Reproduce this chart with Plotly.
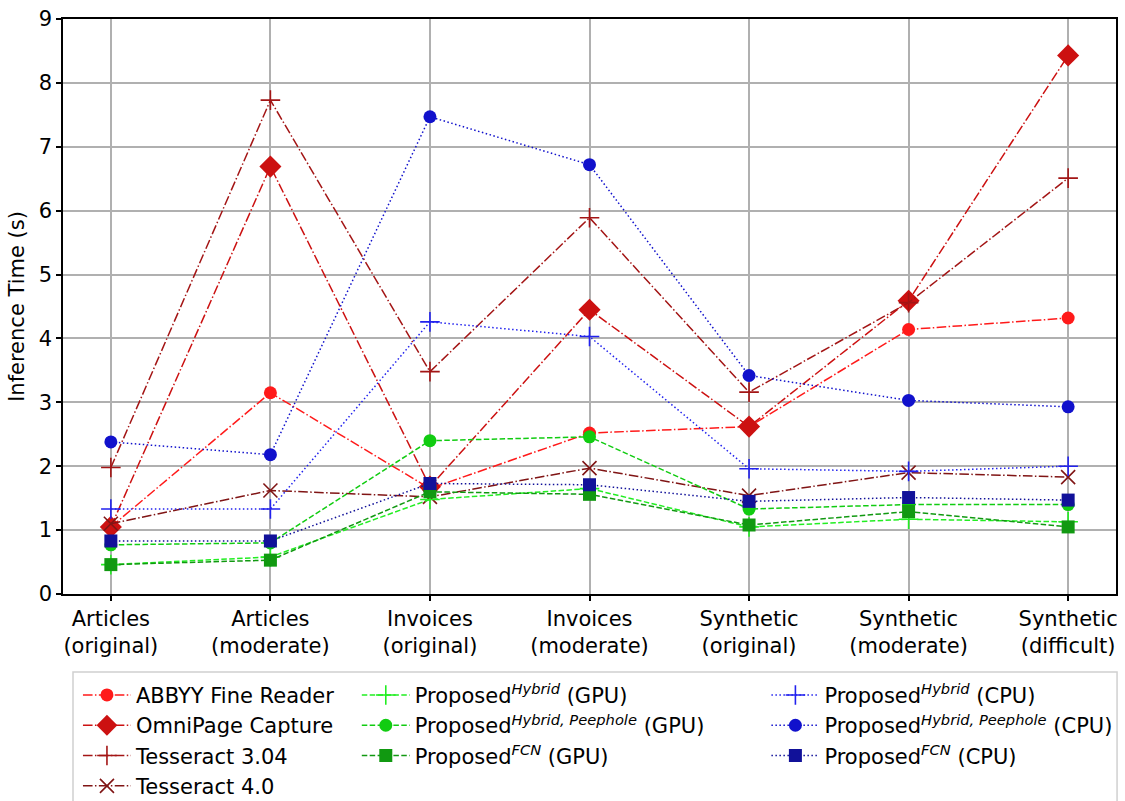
import plotly.graph_objects as go

categories = ["Articles<br>(original)", "Articles<br>(moderate)", "Invoices<br>(original)",
              "Invoices<br>(moderate)", "Synthetic<br>(original)", "Synthetic<br>(moderate)",
              "Synthetic<br>(difficult)"]

abbyy = [1.05, 3.15, 1.65, 2.52, 2.62, 4.14, 4.32]
omnipage = [1.05, 6.69, 1.68, 4.45, 2.62, 4.59, 8.43]
tess304 = [1.98, 7.73, 3.48, 5.89, 3.16, 4.56, 6.51]
tess40 = [1.10, 1.62, 1.52, 1.97, 1.54, 1.90, 1.83]
hyb_gpu = [0.46, 0.58, 1.48, 1.65, 1.05, 1.17, 1.13]
peep_gpu = [0.77, 0.80, 2.40, 2.46, 1.33, 1.40, 1.40]
fcn_gpu = [0.46, 0.53, 1.60, 1.56, 1.08, 1.29, 1.05]
hyb_cpu = [1.33, 1.33, 4.26, 4.03, 1.96, 1.92, 2.00]
peep_cpu = [2.38, 2.18, 7.47, 6.72, 3.42, 3.03, 2.93]
fcn_cpu = [0.83, 0.83, 1.73, 1.71, 1.45, 1.51, 1.47]

x = list(range(len(categories)))

DASHDOT = "9.6px,2.4px,1.5px,2.4px"
DASHED = "5.5px,2.4px"
DOTTED = "1.5px,2.5px"

series = [
    ("ABBYY Fine Reader", abbyy, "#ff1a1a", "circle", 13, DASHDOT, "legend"),
    ("OmniPage Capture", omnipage, "#cc1111", "diamond", 17, DASHDOT, "legend"),
    ("Tesseract 3.04", tess304, "#a31515", "cross-thin", 14, DASHDOT, "legend"),
    ("Tesseract 4.0", tess40, "#801515", "x-thin", 14, DASHDOT, "legend"),
    ("Proposed<sup><i>Hybrid</i></sup> (GPU)", hyb_gpu, "#22ee22", "cross-thin", 14, DASHED, "legend2"),
    ("Proposed<sup><i>Hybrid, Peephole</i></sup> (GPU)", peep_gpu, "#11cc11", "circle", 13, DASHED, "legend2"),
    ("Proposed<sup><i>FCN</i></sup> (GPU)", fcn_gpu, "#119911", "square", 13, DASHED, "legend2"),
    ("Proposed<sup><i>Hybrid</i></sup> (CPU)", hyb_cpu, "#2222ee", "cross-thin", 14, DOTTED, "legend3"),
    ("Proposed<sup><i>Hybrid, Peephole</i></sup> (CPU)", peep_cpu, "#1111cc", "circle", 13, DOTTED, "legend3"),
    ("Proposed<sup><i>FCN</i></sup> (CPU)", fcn_cpu, "#111199", "square", 13, DOTTED, "legend3"),
]

fig = go.Figure()
for name, vals, color, sym, size, dash, leg in series:
    fig.add_trace(go.Scatter(
        x=x, y=vals, name=name, mode="lines+markers",
        line=dict(color=color, width=1.5, dash=dash),
        marker=dict(symbol=sym, size=size, color=color,
                    line=dict(color=color, width=1.6 if "thin" in sym else 0)),
        legend=leg,
    ))

font = dict(family="DejaVu Sans", size=21, color="black")
legcommon = dict(bgcolor="rgba(0,0,0,0)", borderwidth=0, font=font,
                 xanchor="left", yanchor="top", y=-0.1405, tracegroupgap=0,
                 itemwidth=48)

fig.update_layout(
    width=1125, height=801,
    margin=dict(l=63, r=9, t=19, b=207, autoexpand=False),
    plot_bgcolor="white", paper_bgcolor="white",
    font=font,
    showlegend=True,
    legend=dict(x=0.0142, **legcommon),
    legend2=dict(x=0.279, **legcommon),
    legend3=dict(x=0.668, **legcommon),
    xaxis=dict(
        tickmode="array", tickvals=x, ticktext=categories,
        range=[-0.3, 6.3], showgrid=True, gridcolor="#b0b0b0", gridwidth=1.5,
        showline=True, linecolor="black", linewidth=1.5, mirror=True,
        ticks="outside", ticklen=5, tickwidth=1.5, tickcolor="black",
        zeroline=False, tickfont=font,
    ),
    yaxis=dict(
        range=[0, 9], dtick=1, showgrid=True, gridcolor="#b0b0b0", gridwidth=1.5,
        showline=True, linecolor="black", linewidth=1.5, mirror=True,
        ticks="outside", ticklen=5, tickwidth=1.5, tickcolor="black",
        zeroline=False, tickfont=font,
        title=dict(text="Inference Time (s)", font=font, standoff=8),
    ),
    shapes=[dict(type="rect", xref="paper", yref="paper",
                 x0=0.0095, x1=1.001, y0=-0.40, y1=-0.1357,
                 line=dict(color="#d0d0d0", width=1.5), fillcolor="rgba(0,0,0,0)")],
)

fig.write_html("out.html")
